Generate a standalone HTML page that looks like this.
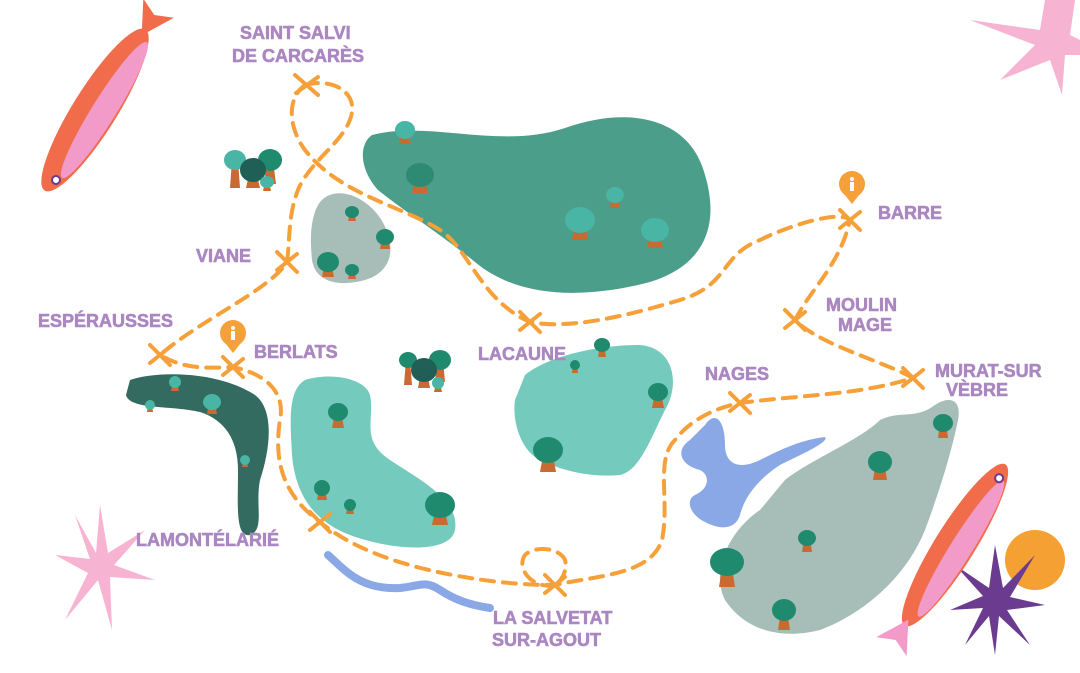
<!DOCTYPE html>
<html><head><meta charset="utf-8"><style>
html,body{margin:0;padding:0;background:#fff;width:1080px;height:673px;overflow:hidden}
svg{display:block}
.l{font-family:"Liberation Sans",sans-serif;font-weight:bold;font-size:18px;fill:#ab87c2;stroke:#ab87c2;stroke-width:0.6}
.d{fill:none;stroke:#f6a03a;stroke-width:4;stroke-dasharray:13 9;stroke-linecap:round}
.x{stroke:#f6a03a;stroke-width:4;stroke-linecap:round}
.tr{fill:#c96a32}
</style></head><body>
<svg width="1080" height="673" viewBox="0 0 1080 673" xmlns="http://www.w3.org/2000/svg">
<g fill="#f7b3d2">
<path d="M970,20 L1040,30 L1045,0 L1075,0 L1070,35 L1080,40 L1080,55 L1065,55 L1062,95 L1050,60 L1000,80 L1035,45 Z"/>
</g>
<g fill="#f7b3d2" transform="translate(100,565)">
<path d="M0,-60 L8,-12 L45,-35 L14,0 L55,15 L10,12 L12,65 L-2,15 L-35,55 L-12,8 L-45,-10 L-10,-6 L-25,-50 L-4,-12 Z"/>
</g>
<circle cx="1035" cy="560" r="30" fill="#f4a032"/>
<g fill="#6a3b8e" transform="translate(995,600)">
<path d="M0,-55 L8,-12 L40,-45 L15,-3 L50,5 L12,10 L35,45 L4,16 L0,55 L-6,16 L-30,45 L-12,8 L-45,10 L-12,-4 L-40,-35 L-6,-12 Z"/>
</g>
<g transform="translate(95,110) rotate(-58)">
<ellipse cx="0" cy="0" rx="95" ry="22" fill="#f06c4a"/>
<ellipse cx="5" cy="8" rx="80" ry="12" fill="#f29bc8"/>
<path d="M88,0 L120,-18 L112,0 L120,18 Z" fill="#f06c4a"/>
<circle cx="-80" cy="4" r="4" fill="#fff" stroke="#6a3b8e" stroke-width="2"/>
</g>
<g transform="translate(955,545) rotate(-58)">
<ellipse cx="0" cy="0" rx="95" ry="20" fill="#f06c4a"/>
<ellipse cx="0" cy="7" rx="80" ry="11" fill="#f29bc8"/>
<path d="M-88,0 L-120,-18 L-112,0 L-120,18 Z" fill="#f29bc8"/>
<circle cx="80" cy="2" r="4" fill="#fff" stroke="#6a3b8e" stroke-width="2"/>
</g>
<path d="M372,135 C430,120 500,150 565,128 C630,105 690,118 705,175 C720,225 705,265 650,282 C590,298 520,300 475,262 C435,230 405,212 378,190 C360,170 358,145 372,135Z" fill="#4a9e8a"/>
<path d="M318,205 C330,185 360,192 378,215 C395,238 398,270 365,280 C335,288 315,280 312,260 C310,240 310,220 318,205Z" fill="#a6bdb8"/>
<path d="M130,380 C160,370 220,372 255,395 C275,410 270,450 260,480 C255,505 265,530 250,535 C235,538 238,505 238,470 C238,440 225,420 200,412 C170,405 130,410 126,395 Z" fill="#336b60"/>
<path d="M305,380 C330,372 365,378 370,395 C375,420 360,440 390,460 C420,480 460,500 455,530 C450,555 390,550 350,535 C310,520 295,490 292,455 C290,420 288,390 305,380Z" fill="#74cbbd"/>
<path d="M525,375 C550,355 600,345 640,345 C675,348 680,385 665,410 C650,440 640,470 620,475 C590,478 560,470 540,460 C520,450 512,420 515,400 Z" fill="#74cbbd"/>
<path d="M705,425 C715,410 725,420 725,445 C725,465 740,470 760,460 C780,450 800,440 825,437 C830,442 800,455 780,465 C760,478 745,495 740,515 C735,530 720,530 705,522 C690,515 685,500 695,495 C710,488 710,475 700,470 C680,465 675,450 690,440 Z" fill="#8aa8e6"/>
<path d="M785,480 C810,460 860,440 880,420 C900,410 915,420 935,405 C950,395 962,400 958,420 C952,450 940,490 925,530 C905,580 860,615 820,630 C780,640 745,630 725,600 C710,570 730,530 760,510 Z" fill="#a6bdb8"/>
<path d="M328,555 C345,570 360,590 400,588 C420,586 425,580 440,590 C455,600 470,605 490,608" fill="none" stroke="#8aa8e6" stroke-width="8" stroke-linecap="round"/>
<g>
<g transform="translate(405,130)"><path class="tr" d="M-3,0 L3,0 L6,14 L-6,14Z"/><ellipse cx="0" cy="0" rx="10" ry="9" fill="#49b5a4"/></g>
<g transform="translate(420,175)"><path class="tr" d="M-4,0 L4,0 L8,18 L-8,18Z"/><ellipse cx="0" cy="0" rx="14" ry="12" fill="#2f8a73"/></g>
<g transform="translate(580,220)"><path class="tr" d="M-4,0 L4,0 L8,20 L-8,20Z"/><ellipse cx="0" cy="0" rx="15" ry="13" fill="#49b5a4"/></g>
<g transform="translate(615,195)"><path class="tr" d="M-3,0 L3,0 L5,13 L-5,13Z"/><ellipse cx="0" cy="0" rx="9" ry="8" fill="#49b5a4"/></g>
<g transform="translate(655,230)"><path class="tr" d="M-4,0 L4,0 L8,18 L-8,18Z"/><ellipse cx="0" cy="0" rx="14" ry="12" fill="#49b5a4"/></g>
<g transform="translate(235,160)"><path class="tr" d="M-3,0 L3,0 L5,28 L-5,28Z"/><ellipse cx="0" cy="0" rx="11" ry="10" fill="#49b5a4"/></g>
<g transform="translate(270,160)"><path class="tr" d="M-3,0 L3,0 L6,24 L-6,24Z"/><ellipse cx="0" cy="0" rx="12" ry="11" fill="#1f8a6e"/></g>
<g transform="translate(253,170)"><path class="tr" d="M-3,0 L3,0 L7,18 L-7,18Z"/><ellipse cx="0" cy="0" rx="13" ry="12" fill="#1f5f55"/></g>
<g transform="translate(267,182)"><path class="tr" d="M-2,0 L2,0 L4,9 L-4,9Z"/><ellipse cx="0" cy="0" rx="7" ry="6" fill="#49b5a4"/></g>
<g transform="translate(352,212)"><path class="tr" d="M-2,0 L2,0 L4,9 L-4,9Z"/><ellipse cx="0" cy="0" rx="7" ry="6" fill="#1f8a6e"/></g>
<g transform="translate(385,237)"><path class="tr" d="M-3,0 L3,0 L5,12 L-5,12Z"/><ellipse cx="0" cy="0" rx="9" ry="8" fill="#1f8a6e"/></g>
<g transform="translate(328,262)"><path class="tr" d="M-3,0 L3,0 L6,15 L-6,15Z"/><ellipse cx="0" cy="0" rx="11" ry="10" fill="#1f8a6e"/></g>
<g transform="translate(352,270)"><path class="tr" d="M-2,0 L2,0 L4,9 L-4,9Z"/><ellipse cx="0" cy="0" rx="7" ry="6" fill="#1f8a6e"/></g>
<g transform="translate(408,360)"><path class="tr" d="M-2,0 L2,0 L4,25 L-4,25Z"/><ellipse cx="0" cy="0" rx="9" ry="8" fill="#1f8a6e"/></g>
<g transform="translate(440,360)"><path class="tr" d="M-3,0 L3,0 L5,22 L-5,22Z"/><ellipse cx="0" cy="0" rx="11" ry="10" fill="#1f8a6e"/></g>
<g transform="translate(424,370)"><path class="tr" d="M-3,0 L3,0 L6,18 L-6,18Z"/><ellipse cx="0" cy="0" rx="13" ry="12" fill="#1f5f55"/></g>
<g transform="translate(438,383)"><path class="tr" d="M-2,0 L2,0 L4,9 L-4,9Z"/><ellipse cx="0" cy="0" rx="6" ry="6" fill="#49b5a4"/></g>
<g transform="translate(175,382)"><path class="tr" d="M-2,0 L2,0 L4,9 L-4,9Z"/><ellipse cx="0" cy="0" rx="6" ry="6" fill="#49b5a4"/></g>
<g transform="translate(212,402)"><path class="tr" d="M-3,0 L3,0 L5,12 L-5,12Z"/><ellipse cx="0" cy="0" rx="9" ry="8" fill="#49b5a4"/></g>
<g transform="translate(150,405)"><path class="tr" d="M-2,0 L2,0 L3,7 L-3,7Z"/><ellipse cx="0" cy="0" rx="5" ry="5" fill="#49b5a4"/></g>
<g transform="translate(245,460)"><path class="tr" d="M-2,0 L2,0 L3,7 L-3,7Z"/><ellipse cx="0" cy="0" rx="5" ry="5" fill="#49b5a4"/></g>
<g transform="translate(338,412)"><path class="tr" d="M-3,0 L3,0 L6,16 L-6,16Z"/><ellipse cx="0" cy="0" rx="10" ry="9" fill="#1f8a6e"/></g>
<g transform="translate(322,488)"><path class="tr" d="M-3,0 L3,0 L5,12 L-5,12Z"/><ellipse cx="0" cy="0" rx="8" ry="8" fill="#1f8a6e"/></g>
<g transform="translate(350,505)"><path class="tr" d="M-2,0 L2,0 L4,9 L-4,9Z"/><ellipse cx="0" cy="0" rx="6" ry="6" fill="#1f8a6e"/></g>
<g transform="translate(440,505)"><path class="tr" d="M-4,0 L4,0 L8,20 L-8,20Z"/><ellipse cx="0" cy="0" rx="15" ry="13" fill="#1f8a6e"/></g>
<g transform="translate(602,345)"><path class="tr" d="M-2,0 L2,0 L4,12 L-4,12Z"/><ellipse cx="0" cy="0" rx="8" ry="7" fill="#1f8a6e"/></g>
<g transform="translate(575,365)"><path class="tr" d="M-2,0 L2,0 L3,8 L-3,8Z"/><ellipse cx="0" cy="0" rx="5" ry="5" fill="#1f8a6e"/></g>
<g transform="translate(658,392)"><path class="tr" d="M-3,0 L3,0 L6,16 L-6,16Z"/><ellipse cx="0" cy="0" rx="10" ry="9" fill="#1f8a6e"/></g>
<g transform="translate(548,450)"><path class="tr" d="M-4,0 L4,0 L8,22 L-8,22Z"/><ellipse cx="0" cy="0" rx="15" ry="13" fill="#1f8a6e"/></g>
<g transform="translate(943,423)"><path class="tr" d="M-3,0 L3,0 L5,15 L-5,15Z"/><ellipse cx="0" cy="0" rx="10" ry="9" fill="#1f8a6e"/></g>
<g transform="translate(880,462)"><path class="tr" d="M-4,0 L4,0 L7,18 L-7,18Z"/><ellipse cx="0" cy="0" rx="12" ry="11" fill="#1f8a6e"/></g>
<g transform="translate(807,538)"><path class="tr" d="M-3,0 L3,0 L5,14 L-5,14Z"/><ellipse cx="0" cy="0" rx="9" ry="8" fill="#1f8a6e"/></g>
<g transform="translate(727,562)"><path class="tr" d="M-4,0 L4,0 L8,25 L-8,25Z"/><ellipse cx="0" cy="0" rx="17" ry="14" fill="#1f8a6e"/></g>
<g transform="translate(784,610)"><path class="tr" d="M-3,0 L3,0 L6,20 L-6,20Z"/><ellipse cx="0" cy="0" rx="12" ry="11" fill="#1f8a6e"/></g>
</g>
<path class="d" d="M305,85 C330,78 355,90 352,112 C348,140 310,160 298,190 C288,215 290,240 287,262 C270,290 200,320 160,355 C185,370 210,368 233,367 C270,375 285,395 280,420 C272,470 290,500 320,522 C360,555 420,570 470,578 C500,583 530,585 555,585 C600,575 650,575 662,540 C670,500 655,460 675,440 C690,420 715,408 740,403 C800,395 860,395 913,378 C880,360 820,345 795,320 C810,290 840,265 850,220 C840,210 790,225 760,240 C720,255 730,285 680,300 C630,315 570,330 530,322 C480,300 470,250 440,230 C400,205 340,195 305,150 C290,130 285,100 305,85"/>
<path class="d" d="M555,585 C535,590 515,570 525,555 C535,545 560,548 565,560 C568,572 560,582 555,585"/>
<g class="x">
<path d="M295,75 L318,95 M296,93 L318,77"/>
<path d="M277,252 L297,272 M277,270 L297,254"/>
<path d="M150,345 L170,365 M150,363 L170,347"/>
<path d="M223,357 L243,377 M223,375 L243,359"/>
<path d="M520,312 L540,332 M520,330 L540,314"/>
<path d="M840,210 L860,230 M840,228 L860,212"/>
<path d="M785,310 L805,330 M785,328 L805,312"/>
<path d="M903,368 L923,388 M903,386 L923,370"/>
<path d="M730,393 L750,413 M730,411 L750,395"/>
<path d="M310,512 L330,532 M310,530 L330,514"/>
<path d="M545,575 L565,595 M545,593 L565,577"/>
</g>
<g fill="#f6a03a">
<circle cx="852" cy="184" r="13"/><path d="M841,190 L852,204 L863,190Z"/>
<circle cx="233" cy="333" r="13"/><path d="M222,339 L233,353 L244,339Z"/>
</g>
<g fill="#fff"><circle cx="852" cy="179" r="2"/><rect x="850" y="182" width="4" height="9"/><circle cx="233" cy="328" r="2"/><rect x="231" y="331" width="4" height="9"/></g>
<text class="l" x="240" y="39">SAINT SALVI</text>
<text class="l" x="232" y="62">DE CARCARÈS</text>
<text class="l" x="196" y="262">VIANE</text>
<text class="l" x="38" y="327">ESPÉRAUSSES</text>
<text class="l" x="254" y="358">BERLATS</text>
<text class="l" x="478" y="360">LACAUNE</text>
<text class="l" x="878" y="219">BARRE</text>
<text class="l" x="826" y="311">MOULIN</text>
<text class="l" x="838" y="331">MAGE</text>
<text class="l" x="935" y="377">MURAT-SUR</text>
<text class="l" x="946" y="396">VÈBRE</text>
<text class="l" x="705" y="380">NAGES</text>
<text class="l" x="136" y="546">LAMONTÉLARIÉ</text>
<text class="l" x="493" y="624">LA SALVETAT</text>
<text class="l" x="492" y="646">SUR-AGOUT</text>
</svg>
</body></html>
